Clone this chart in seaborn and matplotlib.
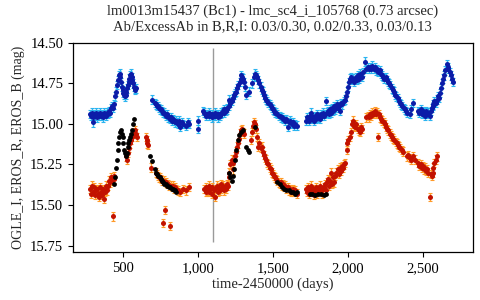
import numpy as np
import pandas as pd
import matplotlib
matplotlib.use('Agg')
import matplotlib.pyplot as plt
import seaborn as sns
from matplotlib.ticker import FuncFormatter

# EROS_B (blue)
b_t = [285, 292, 298, 300, 305, 312, 318, 325, 331, 338, 345, 352, 358, 365, 372, 378, 385, 392,
       398, 405, 412, 418, 425, 432, 438, 445, 452, 458, 465, 470, 475, 480, 485, 490, 495, 500,
       505, 510, 515, 520, 525, 530, 535, 540, 545, 550, 555, 560, 565, 570, 575, 580, 585, 590,
       693, 715, 722, 728, 735, 742, 748, 755, 762, 768, 775, 782, 788, 795, 802, 808, 815, 822,
       828, 835, 842, 848, 855, 862, 870, 878, 885, 895, 905, 920, 935, 944,
       1000, 1003, 1033,
       1045, 1052, 1058, 1065, 1072, 1078, 1085, 1092, 1098, 1105, 1112, 1118, 1125, 1132, 1138,
       1145, 1152, 1158, 1165, 1172, 1178, 1185, 1192, 1198, 1205, 1211, 1218, 1225, 1232, 1240,
       1248, 1255, 1262, 1270, 1278, 1285, 1290, 1296, 1302, 1308, 1315, 1322, 1344, 1360, 1372,
       1380, 1388, 1395, 1402, 1410, 1418, 1425, 1432, 1440, 1448, 1455, 1462, 1470, 1478, 1485,
       1492, 1500, 1508, 1515, 1522, 1530, 1538, 1545, 1552, 1560, 1568, 1575, 1582, 1590, 1598,
       1605, 1612, 1620, 1628, 1635, 1642, 1650, 1658,
       1722, 1728, 1735, 1742, 1748, 1753, 1760, 1767, 1773, 1780, 1787, 1793, 1800, 1807, 1813,
       1820, 1827, 1833, 1840, 1847, 1853, 1860, 1867, 1873, 1880, 1887, 1893, 1900, 1907, 1913,
       1920, 1927, 1933, 1940, 1947, 1955, 1962, 1970, 1978, 1985, 1992, 1998, 2005, 2012, 2020,
       2028, 2035, 2042, 2050, 2058, 2066, 2074, 2082, 2090, 2100, 2116, 2122, 2130, 2138, 2146,
       2154, 2162, 2170, 2178, 2186, 2194, 2202, 2210, 2218, 2226, 2234, 2242, 2250, 2258, 2266,
       2274, 2282, 2290, 2298, 2306, 2314, 2322, 2330, 2338, 2346, 2354, 2362, 2370, 2378, 2386,
       2395, 2411, 2420, 2433,
       2467, 2475, 2483, 2490, 2498, 2505, 2512, 2520, 2528, 2535, 2542, 2550, 2556, 2562, 2568,
       2575, 2582, 2590, 2597, 2604, 2611, 2618, 2625, 2632, 2640, 2648, 2656, 2662, 2668, 2675,
       2682, 2690, 2698]
b_mag = [14.94, 14.95, 14.93, 14.99, 14.96, 14.94, 14.95, 14.93, 14.96, 14.94, 14.95, 14.93, 14.95,
         14.94, 14.96, 14.93, 14.94, 14.95, 14.93, 14.94, 14.92, 14.93, 14.90, 14.89, 14.90, 14.88,
         14.83, 14.80, 14.76, 14.73, 14.70, 14.69, 14.71, 14.74, 14.77, 14.79, 14.81, 14.82, 14.83,
         14.82, 14.80, 14.78, 14.76, 14.74, 14.72, 14.70, 14.69, 14.71, 14.73, 14.75, 14.77, 14.78,
         14.79, 14.78,
         14.85, 14.87, 14.88, 14.89, 14.89, 14.90, 14.91, 14.91, 14.92, 14.93, 14.93, 14.94, 14.95,
         14.94, 14.96, 14.96, 14.97, 14.96, 14.98, 14.97, 14.98, 14.99, 14.98, 14.99, 15.00, 14.98,
         15.02, 14.99, 15.00, 15.01, 14.99, 15.00,
         15.03, 14.98, 14.92,
         14.93, 14.94, 14.95, 14.94, 14.93, 14.95, 14.94, 14.96, 14.94, 14.95, 14.93, 14.95, 14.94,
         14.96, 14.94, 14.95, 14.93, 14.94, 14.92, 14.93, 14.91, 14.92, 14.90, 14.91, 14.89, 14.85,
         14.87, 14.86, 14.84, 14.82, 14.81, 14.80, 14.78, 14.76, 14.74, 14.72, 14.70, 14.71, 14.72,
         14.74, 14.77, 14.82, 14.80, 14.75, 14.71, 14.69, 14.70, 14.71, 14.73, 14.75, 14.77, 14.79,
         14.80, 14.82, 14.84, 14.85, 14.86, 14.87, 14.88, 14.89, 14.90, 14.91, 14.92, 14.93, 14.93,
         14.94, 14.95, 14.95, 14.96, 14.96, 14.97, 14.97, 14.98, 14.97, 15.02, 14.99, 14.98, 14.99,
         15.00, 14.99, 15.01, 15.00, 15.01,
         14.98, 14.96, 14.97, 14.98, 14.95, 14.93, 14.97, 14.96, 14.98, 14.95, 14.97, 14.94, 14.96,
         14.95, 14.97, 14.94, 14.95, 14.93, 14.95, 14.94, 14.86, 14.93, 14.92, 14.94, 14.91, 14.93,
         14.90, 14.92, 14.89, 14.91, 14.90, 14.88, 14.90, 14.89, 14.92, 14.87, 14.88, 14.86, 14.85,
         14.83, 14.80, 14.77, 14.74, 14.72, 14.71, 14.73, 14.72, 14.74, 14.71, 14.73, 14.70, 14.72,
         14.69, 14.71, 14.68, 14.615, 14.66, 14.65, 14.66, 14.65, 14.66, 14.64, 14.66, 14.65, 14.67,
         14.66, 14.68, 14.67, 14.69, 14.70, 14.71, 14.72, 14.71, 14.73, 14.74, 14.75, 14.76, 14.78,
         14.79, 14.80, 14.82, 14.83, 14.84, 14.86, 14.87, 14.88, 14.89, 14.90, 14.91, 14.92, 14.93,
         14.94, 14.91, 14.87,
         14.92, 14.93, 14.91, 14.94, 14.92, 14.93, 14.95, 14.92, 14.94, 14.93, 14.95, 14.92, 14.90,
         14.89, 14.88, 14.86, 14.87, 14.85, 14.83, 14.84, 14.81, 14.78, 14.75, 14.72, 14.70, 14.67,
         14.63, 14.65, 14.66, 14.68, 14.70, 14.72, 14.74]

# EROS_R (red)
r_t = [285, 292, 298, 305, 312, 318, 325, 331, 338, 345, 352, 358, 365, 372, 378, 385, 392, 398,
       405, 412, 418, 425, 432, 434, 440, 445,
       520, 527, 533, 540, 547, 553, 560, 567, 573, 580, 587, 594, 655, 660, 665, 670, 690,
       722, 728, 735, 742, 748, 755, 762, 769, 775, 780, 788, 795, 802, 808, 813, 820, 828, 835,
       842, 850, 858, 870, 885, 900, 920, 944,
       1045, 1052, 1058, 1065, 1072, 1078, 1085, 1092, 1098, 1105, 1112, 1118, 1125, 1132, 1138,
       1145, 1152, 1158, 1165, 1172, 1178, 1185, 1192, 1200, 1205, 1211, 1218, 1225, 1232, 1238,
       1245, 1252, 1258, 1265, 1272, 1280, 1289, 1296, 1303, 1311, 1356, 1362, 1368, 1372, 1378,
       1385, 1392, 1400, 1410, 1418, 1425, 1433, 1440, 1448, 1455, 1462, 1470, 1478, 1485, 1492,
       1500, 1508, 1515, 1522, 1530, 1538, 1545, 1552, 1560, 1568, 1575, 1582, 1590, 1598, 1605,
       1612, 1620, 1628, 1635, 1642, 1650, 1658,
       1722, 1728, 1735, 1742, 1748, 1755, 1762, 1768, 1775, 1782, 1788, 1795, 1802, 1808, 1815,
       1822, 1828, 1835, 1842, 1848, 1855, 1862, 1868, 1875, 1882, 1888, 1895, 1902, 1908, 1915,
       1922, 1930, 1937, 1944, 1952, 1960, 1968, 1975, 1982, 1990, 1996, 2002, 2010, 2018, 2025,
       2032, 2040, 2048, 2056, 2064, 2072, 2078, 2086, 2094, 2122, 2130, 2138, 2146, 2154, 2162,
       2170, 2178, 2186, 2194, 2200, 2204, 2212, 2220, 2228, 2236, 2244, 2252, 2260, 2268, 2276,
       2284, 2292, 2300, 2308, 2316, 2324, 2332, 2340, 2348, 2356, 2364, 2389, 2398, 2410, 2422,
       2433, 2444,
       2467, 2475, 2483, 2490, 2498, 2505, 2512, 2520, 2528, 2535, 2544, 2550, 2556, 2562, 2568,
       2575, 2582, 2589]
r_mag = [15.40, 15.43, 15.38, 15.42, 15.39, 15.44, 15.41, 15.40, 15.43, 15.45, 15.39, 15.42, 15.44,
         15.40, 15.46, 15.42, 15.38, 15.41, 15.38, 15.35, 15.36, 15.33, 15.35, 15.57, 15.34, 15.32,
         15.20, 15.22, 15.18, 15.15, 15.12, 15.10, 15.08, 15.06, 15.05, 15.04, 15.06, 15.08, 15.08,
         15.10, 15.12, 15.13, 15.27,
         15.30, 15.31, 15.32, 15.33, 15.33, 15.34, 15.35, 15.61, 15.35, 15.53, 15.36, 15.37, 15.37,
         15.38, 15.63, 15.38, 15.39, 15.38, 15.40, 15.39, 15.40, 15.41, 15.42, 15.40, 15.41, 15.39,
         15.40, 15.42, 15.39, 15.41, 15.38, 15.42, 15.40, 15.43, 15.39, 15.41, 15.45, 15.40, 15.38,
         15.42, 15.39, 15.41, 15.37, 15.40, 15.38, 15.41, 15.39, 15.40, 15.37, 15.38, 15.33, 15.30,
         15.25, 15.22, 15.28, 15.24, 15.20, 15.17, 15.14, 15.12, 15.09, 15.06, 15.04, 15.03, 15.05,
         15.06, 15.10, 15.05, 15.01, 14.99, 15.00, 15.03, 15.08, 15.14, 15.12, 15.15, 15.14, 15.17,
         15.19, 15.21, 15.22, 15.24, 15.25, 15.27, 15.28, 15.30, 15.31, 15.32, 15.33, 15.34, 15.35,
         15.36, 15.37, 15.36, 15.38, 15.37, 15.39, 15.38, 15.40, 15.39, 15.41, 15.40, 15.42, 15.41,
         15.40, 15.42, 15.41, 15.43,
         15.40, 15.42, 15.39, 15.43, 15.41, 15.38, 15.42, 15.40, 15.44, 15.41, 15.39, 15.43, 15.40,
         15.42, 15.38, 15.41, 15.43, 15.40, 15.39, 15.37, 15.41, 15.36, 15.34, 15.38, 15.35, 15.30,
         15.37, 15.33, 15.36, 15.32, 15.30, 15.28, 15.31, 15.27, 15.29, 15.26, 15.27, 15.25, 15.24,
         15.16, 15.12, 15.10, 15.08, 15.05, 15.00, 14.98, 15.01, 15.02, 15.00, 15.03, 15.04, 15.05,
         15.02, 15.03, 14.96, 14.95, 14.96, 14.94, 14.95, 14.93, 14.94, 14.92, 14.94, 14.93, 15.08,
         14.94, 14.96, 14.97, 14.98, 14.99, 15.00, 15.02, 15.03, 15.04, 15.06, 15.07, 15.08, 15.09,
         15.10, 15.11, 15.12, 15.13, 15.14, 15.15, 15.16, 15.17, 15.20, 15.19, 15.21, 15.22, 15.20,
         15.22,
         15.24, 15.26, 15.25, 15.27, 15.26, 15.28, 15.27, 15.29, 15.28, 15.30, 15.45, 15.31, 15.32,
         15.30, 15.27, 15.24, 15.22, 15.20]

# OGLE_I (black)
i_t = [445, 450, 456, 461, 467, 472, 478, 484, 489, 494, 500, 505, 511, 516, 522, 527, 533, 538,
       544, 550, 556, 561, 567, 573,
       682, 693, 715, 722, 730, 738, 746, 754, 762, 770, 778, 786, 794, 802, 810, 818, 826, 834,
       842, 850, 858,
       1211, 1218, 1225, 1233, 1240, 1248, 1256, 1265, 1275, 1289, 1300, 1322, 1333, 1344, 1380,
       1530, 1545, 1560, 1575, 1590, 1605, 1620, 1635, 1650, 1660,
       1744, 1760, 1780, 1800, 1820, 1840, 1856]
i_mag = [15.37, 15.33, 15.27, 15.22, 15.16, 15.12, 15.08, 15.05, 15.04, 15.06, 15.08, 15.12, 15.16,
         15.18, 15.20, 15.18, 15.14, 15.12, 15.10, 15.08, 15.06, 15.04, 15.00, 14.97,
         15.20, 15.23, 15.28, 15.30, 15.31, 15.32, 15.33, 15.34, 15.35, 15.36, 15.37, 15.37, 15.38,
         15.38, 15.39, 15.39, 15.40, 15.40, 15.41, 15.41, 15.42,
         15.30, 15.33, 15.35, 15.32, 15.28, 15.22, 15.16, 15.10, 15.07, 15.05, 15.04, 15.14, 15.16,
         15.17, 15.02,
         15.36, 15.37, 15.39, 15.40, 15.41, 15.41, 15.42, 15.42, 15.43, 15.42,
         15.43, 15.43, 15.44, 15.43, 15.43, 15.44, 15.43]

b_err = 0.026
r_err = 0.026

y_ticks = [14.50, 14.75, 15.00, 15.25, 15.50, 15.75]
x_ticks = [500, 1000, 1500, 2000, 2500]

blue = pd.DataFrame({'t': b_t, 'mag': b_mag})
red = pd.DataFrame({'t': r_t, 'mag': r_mag})
ogle = pd.DataFrame({'t': i_t, 'mag': i_mag})

sns.set_theme(style='ticks')
plt.rcParams['font.family'] = ['Liberation Serif', 'DejaVu Serif']

fig, ax = plt.subplots(figsize=(4.8, 3.0), dpi=100)
fig.subplots_adjust(left=0.152, right=0.985, bottom=0.16, top=0.857)

ax.errorbar(blue['t'], blue['mag'], yerr=b_err, fmt='none', ecolor='#2ab4f0',
            elinewidth=1.0, capsize=1.6, capthick=0.8, zorder=1)
sns.scatterplot(data=blue, x='t', y='mag', color='#0c1ca8', s=13, linewidth=0, ax=ax, zorder=2)

ax.errorbar(red['t'], red['mag'], yerr=r_err, fmt='none', ecolor='#ff9a28',
            elinewidth=1.0, capsize=1.6, capthick=0.8, zorder=1)
sns.scatterplot(data=red, x='t', y='mag', color='#c21200', s=13, linewidth=0, ax=ax, zorder=2)

sns.scatterplot(data=ogle, x='t', y='mag', color='black', s=12, linewidth=0, ax=ax, zorder=3)

ax.vlines(1100, 14.53, 15.73, color='#9a9a9a', lw=1, zorder=0)

ax.set_xlim(170, 2830)
ax.set_ylim(15.79, 14.50)
ax.set_yticks(y_ticks)
ax.set_xticks(x_ticks)
ax.yaxis.set_major_formatter(FuncFormatter(lambda v, p: f'{v:.2f}'))
ax.xaxis.set_major_formatter(FuncFormatter(lambda v, p: f'{int(v):,}'))
ax.tick_params(labelsize=10.5, length=3.5, width=0.8, colors='black')
for s in ax.spines.values():
    s.set_visible(True)
    s.set_color('black')
    s.set_linewidth(0.9)

ax.set_xlabel('time-2450000 (days)', fontsize=10.5, labelpad=2)
ax.set_ylabel('OGLE_I, EROS_R, EROS_B (mag)', fontsize=10, labelpad=4)
ax.set_title('lm0013m15437 (Bc1) - lmc_sc4_i_105768 (0.73 arcsec)\n'
             'Ab/ExcessAb in B,R,I: 0.03/0.30, 0.02/0.33, 0.03/0.13',
             fontsize=10.5, linespacing=1.2, pad=9)

fig.savefig('out.png', dpi=100)
